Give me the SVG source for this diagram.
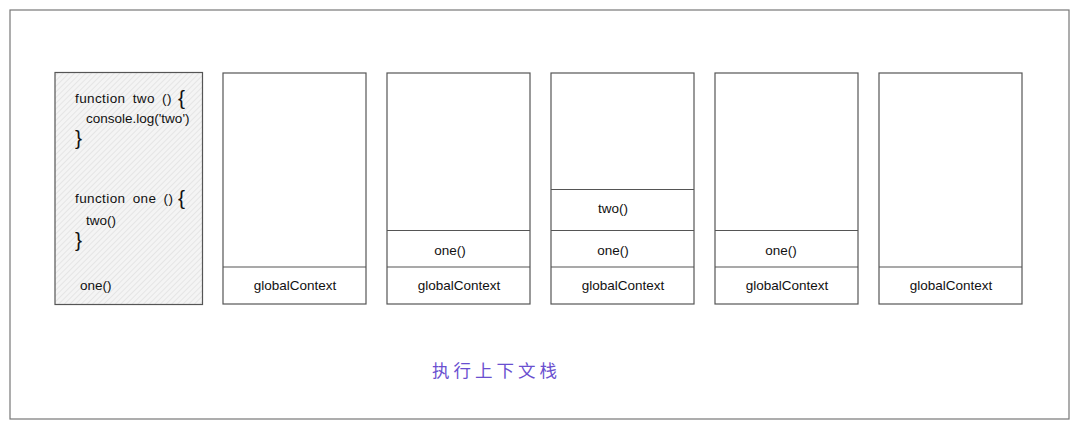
<svg xmlns="http://www.w3.org/2000/svg" width="1079" height="429" viewBox="0 0 1079 429">
<defs>
<pattern id="hatch" width="4" height="4" patternUnits="userSpaceOnUse" patternTransform="rotate(45)">
<rect width="4" height="4" fill="#f4f4f4"/>
<line x1="0" y1="0" x2="0" y2="4" stroke="#dcdcdc" stroke-width="1.2"/>
</pattern>
</defs>
<style>
.box{fill:#ffffff;stroke:#555555;stroke-width:1.2}
.div{stroke:#555555;stroke-width:1.2;fill:none}
.t{font-family:"Liberation Sans","Noto Sans",sans-serif;font-size:13.5px;fill:#111111}
.fn{letter-spacing:0.4px;word-spacing:3px}
.c{text-anchor:middle}
.br{font-size:21px}
.title{font-family:"Noto Sans CJK SC","Noto Sans",sans-serif;font-size:17.5px;fill:#6a4fd0;letter-spacing:4px}
</style>
<rect x="0" y="0" width="1079" height="429" fill="#ffffff"/>
<rect id="frame" x="10" y="10" width="1059" height="409" fill="none" stroke="#777777" stroke-width="1.2"/>

<g id="code">
<rect x="55" y="72.5" width="147.5" height="232" fill="url(#hatch)" stroke="#555555" stroke-width="1.2"/>
<text class="t fn" x="75" y="103">function two ()</text>
<text class="t br" x="178" y="105">{</text>
<text class="t" x="86" y="123">console.log('two')</text>
<text class="t br" x="75" y="145">}</text>
<text class="t fn" x="75" y="203">function one ()</text>
<text class="t br" x="178" y="205">{</text>
<text class="t" x="86" y="225">two()</text>
<text class="t br" x="75" y="247">}</text>
<text class="t" x="80" y="290">one()</text>
</g>

<g id="stack1">
<rect class="box" x="223" y="73" width="143" height="231"/>
<line class="div" x1="223" y1="267" x2="366" y2="267"/>
<text class="t c" x="295" y="290">globalContext</text>
</g>

<g id="stack2">
<rect class="box" x="387" y="73" width="143" height="231"/>
<line class="div" x1="387" y1="230.5" x2="530" y2="230.5"/>
<line class="div" x1="387" y1="267" x2="530" y2="267"/>
<text class="t c" x="450" y="255">one()</text>
<text class="t c" x="459" y="290">globalContext</text>
</g>

<g id="stack3">
<rect class="box" x="551" y="73" width="143" height="231"/>
<line class="div" x1="551" y1="189.5" x2="694" y2="189.5"/>
<line class="div" x1="551" y1="230.5" x2="694" y2="230.5"/>
<line class="div" x1="551" y1="267" x2="694" y2="267"/>
<text class="t c" x="613" y="213">two()</text>
<text class="t c" x="613" y="255">one()</text>
<text class="t c" x="623" y="290">globalContext</text>
</g>

<g id="stack4">
<rect class="box" x="715" y="73" width="143" height="231"/>
<line class="div" x1="715" y1="230.5" x2="858" y2="230.5"/>
<line class="div" x1="715" y1="267" x2="858" y2="267"/>
<text class="t c" x="781" y="255">one()</text>
<text class="t c" x="787" y="290">globalContext</text>
</g>

<g id="stack5">
<rect class="box" x="879" y="73" width="143" height="231"/>
<line class="div" x1="879" y1="267" x2="1022" y2="267"/>
<text class="t c" x="951" y="290">globalContext</text>
</g>

<g id="connectors"></g>

<text id="caption" class="title" x="432" y="377">执行上下文栈</text>
</svg>
